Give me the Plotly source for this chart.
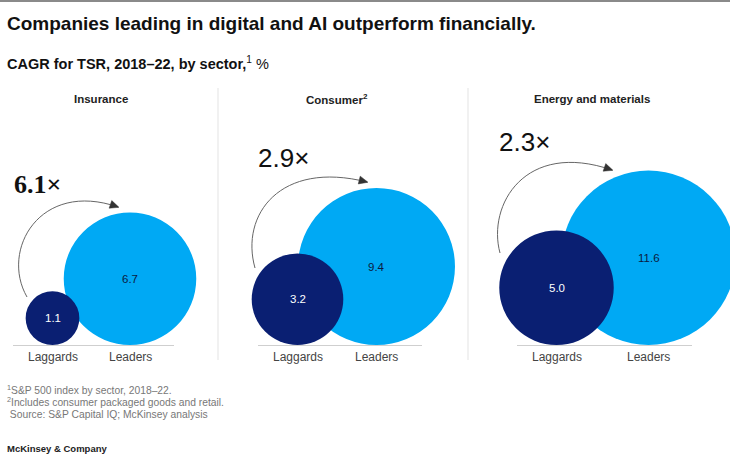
import numpy as np
import plotly.graph_objects as go

# ---------------- data ----------------
sectors = ["Insurance", "Consumer<sup>2</sup>", "Energy and materials"]
laggards = [1.1, 3.2, 5.0]
leaders = [6.7, 9.4, 11.6]
group_labels = ["Laggards", "Leaders"]

title = "Companies leading in digital and AI outperform financially."
subtitle = "<b>CAGR for TSR, 2018–22, by sector,</b><sup>1</sup> %"
footnotes = [
    "<sup>1</sup>S&P 500 index by sector, 2018–22.",
    "<sup>2</sup>Includes consumer packaged goods and retail.",
    " Source: S&P Capital IQ; McKinsey analysis",
]
brand = "McKinsey & Company"

# ---------------- layout constants ----------------
W, H = 730, 456
K = 25.6                      # px per sqrt(value) -> circle area ~ value
BASE_Y = 345
LAG_CX = [52.5, 297.5, 556.5]
LEAD_CX = [130, 376.5, 648.5]
TITLE_X = [101, 337, 592]
BASE_X = [(13, 174), (258, 422), (517, 692)]
SEP_X = [218, 468]
MULT_POS = [(12, 184), (256, 158), (497, 142)]
MULT_FONT = [
    dict(family="Liberation Serif", size=26, color="#111"),
    dict(family="Liberation Sans", size=26, color="#111"),
    dict(family="Liberation Sans", size=26, color="#111"),
]
ARCS = [  # start, c1, c2, tip
    [(27, 297), (0, 250), (40, 180), (118, 207)],
    [(255, 268), (240, 215), (280, 160), (367, 182)],
    [(500, 253), (487, 205), (525, 140), (612, 170)],
]
C_LAG = "#0A1F72"
C_LEAD = "#00A9F4"

fig = go.Figure()
# invisible trace so the axes exist
fig.add_trace(go.Scatter(x=[0, W], y=[0, H], mode="markers", marker=dict(opacity=0),
                         hoverinfo="skip", showlegend=False))
shapes = []
annots = []

# top border
shapes.append(dict(type="line", xref="x", yref="y", x0=0, x1=W, y0=1, y1=1,
                   line=dict(color="#8a8a8a", width=2)))
# separators
for sx in SEP_X:
    shapes.append(dict(type="line", xref="x", yref="y", x0=sx, x1=sx, y0=88, y1=360,
                       line=dict(color="#e3e3e3", width=1)))

for i in range(3):
    rl = K * np.sqrt(leaders[i])
    rg = K * np.sqrt(laggards[i])
    # leader circle
    shapes.append(dict(type="circle", xref="x", yref="y", layer="below",
                       x0=LEAD_CX[i] - rl, x1=LEAD_CX[i] + rl,
                       y0=BASE_Y - 2 * rl, y1=BASE_Y,
                       fillcolor=C_LEAD, line=dict(width=0)))
    # laggard circle
    shapes.append(dict(type="circle", xref="x", yref="y", layer="below",
                       x0=LAG_CX[i] - rg, x1=LAG_CX[i] + rg,
                       y0=BASE_Y - 2 * rg, y1=BASE_Y,
                       fillcolor=C_LAG, line=dict(width=0)))
    # baseline
    bx0, bx1 = BASE_X[i]
    shapes.append(dict(type="line", xref="x", yref="y", x0=bx0, x1=bx1,
                       y0=BASE_Y + 0.5, y1=BASE_Y + 0.5,
                       line=dict(color="#cfcfcf", width=1)))
    # arc arrow
    p0, c1, c2, tip = ARCS[i]
    shapes.append(dict(type="path", xref="x", yref="y",
                       path=f"M {p0[0]},{p0[1]} C {c1[0]},{c1[1]} {c2[0]},{c2[1]} {tip[0]},{tip[1]}",
                       line=dict(color="#666", width=1)))
    d = np.array(tip, float) - np.array(c2, float)
    d /= np.linalg.norm(d)
    n = np.array([-d[1], d[0]])
    t = np.array(tip, float)
    b = t - 8 * d
    a1 = b + 4 * n
    a2 = b - 4 * n
    shapes.append(dict(type="path", xref="x", yref="y",
                       path=f"M {t[0]+1*d[0]},{t[1]+1*d[1]} L {a1[0]},{a1[1]} L {a2[0]},{a2[1]} Z",
                       fillcolor="#333", line=dict(color="#333", width=0.5)))
    # sector title
    annots.append(dict(x=TITLE_X[i], y=99, text=f"<b>{sectors[i]}</b>", showarrow=False,
                       xanchor="center", yanchor="middle",
                       font=dict(family="Liberation Sans", size=11.5, color="#222")))
    # multiplier
    mult = leaders[i] / laggards[i]
    mx, my = MULT_POS[i]
    txt = f"<b>{mult:.1f}×</b>" if i == 0 else f"{mult:.1f}×"
    annots.append(dict(x=mx, y=my, text=txt, showarrow=False, xanchor="left",
                       yanchor="middle", font=MULT_FONT[i]))
    # group labels
    for cx, lab in zip([LAG_CX[i], LEAD_CX[i]], group_labels):
        annots.append(dict(x=cx, y=357, text=lab, showarrow=False, xanchor="center",
                           yanchor="middle",
                           font=dict(family="Liberation Sans", size=12, color="#444")))
    # value labels at circle centres
    annots.append(dict(x=LAG_CX[i], y=BASE_Y - rg, text=f"{laggards[i]:.1f}", showarrow=False,
                       xanchor="center", yanchor="middle",
                       font=dict(family="Liberation Sans", size=11.5, color="white")))
    annots.append(dict(x=LEAD_CX[i], y=BASE_Y - rl, text=f"{leaders[i]:.1f}", showarrow=False,
                       xanchor="center", yanchor="middle",
                       font=dict(family="Liberation Sans", size=11.5, color="#0B1B3F")))

# title / subtitle / footnotes
annots.append(dict(x=5, y=23, text=f"<b>{title}</b>", showarrow=False, xanchor="left",
                   yanchor="middle", font=dict(family="Liberation Sans", size=19, color="#111")))
annots.append(dict(x=5, y=63, text=subtitle, showarrow=False, xanchor="left",
                   yanchor="middle", font=dict(family="Liberation Sans", size=14.5, color="#111")))
for j, fn in enumerate(footnotes):
    annots.append(dict(x=5, y=389 + 12.5 * j, text=fn, showarrow=False, xanchor="left",
                       yanchor="middle", font=dict(family="Liberation Sans", size=10.3, color="#777")))
annots.append(dict(x=5, y=456, text=f"<b>{brand}</b>", showarrow=False, xanchor="left",
                   yanchor="bottom", font=dict(family="Liberation Sans", size=9.5, color="#222")))

for a in annots:
    a.setdefault("xref", "x")
    a.setdefault("yref", "y")

fig.update_layout(
    width=W, height=H, margin=dict(l=0, r=0, t=0, b=0),
    paper_bgcolor="white", plot_bgcolor="white",
    xaxis=dict(range=[0, W], visible=False, fixedrange=True),
    yaxis=dict(range=[H, 0], visible=False, fixedrange=True),
    shapes=shapes, annotations=annots, showlegend=False,
)
fig.write_html("out.html")
